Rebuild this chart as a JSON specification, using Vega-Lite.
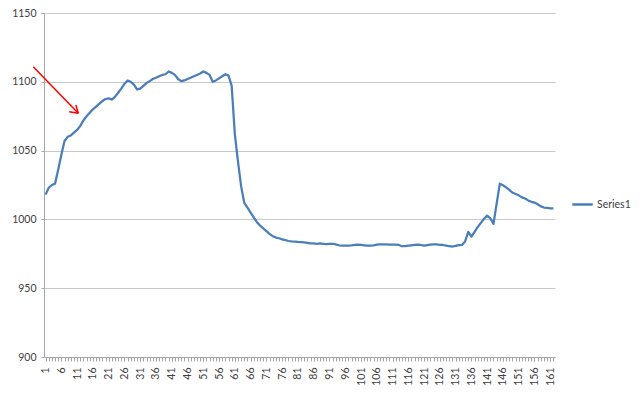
{
  "$schema": "https://vega.github.io/schema/vega-lite/v6.json",
  "autosize": {"type": "none"},
  "width": 511,
  "height": 344,
  "padding": {"left": 44, "top": 13, "right": 85, "bottom": 41},
  "background": "white",
  "config": {
    "view": {"stroke": null},
    "font": "Lato",
    "axis": {"labelFont": "Lato", "labelFontSize": 10.5, "labelColor": "#404040", "domainColor": "#a6a6a6", "tickColor": "#a6a6a6", "gridColor": "#c8c8c8", "title": null}
  },
  "datasets": {
    "series": [
      {"i":1,"v":1018},{"i":2,"v":1023},{"i":3,"v":1025},{"i":4,"v":1026},{"i":5,"v":1036},{"i":6,"v":1047},{"i":7,"v":1057},{"i":8,"v":1060},{"i":9,"v":1061},{"i":10,"v":1063},
      {"i":11,"v":1065},{"i":12,"v":1068},{"i":13,"v":1072},{"i":14,"v":1075},{"i":15,"v":1077.5},{"i":16,"v":1080},{"i":17,"v":1082},{"i":18,"v":1084},{"i":19,"v":1086},{"i":20,"v":1087.5},
      {"i":21,"v":1088},{"i":22,"v":1087},{"i":23,"v":1089},{"i":24,"v":1092},{"i":25,"v":1095},{"i":26,"v":1098.5},{"i":27,"v":1101},{"i":28,"v":1100},{"i":29,"v":1098},{"i":30,"v":1094.5},
      {"i":31,"v":1095},{"i":32,"v":1097},{"i":33,"v":1099},{"i":34,"v":1100.5},{"i":35,"v":1102},{"i":36,"v":1103},{"i":37,"v":1104},{"i":38,"v":1105},{"i":39,"v":1105.5},{"i":40,"v":1107.5},
      {"i":41,"v":1106.5},{"i":42,"v":1105},{"i":43,"v":1102},{"i":44,"v":1100.5},{"i":45,"v":1101},{"i":46,"v":1102},{"i":47,"v":1103},{"i":48,"v":1104},{"i":49,"v":1105},{"i":50,"v":1106},
      {"i":51,"v":1107.5},{"i":52,"v":1106.5},{"i":53,"v":1105},{"i":54,"v":1100},{"i":55,"v":1101},{"i":56,"v":1102.5},{"i":57,"v":1104},{"i":58,"v":1105.5},{"i":59,"v":1104.5},{"i":60,"v":1097},
      {"i":61,"v":1062},{"i":62,"v":1042},{"i":63,"v":1024},{"i":64,"v":1012},{"i":65,"v":1008.5},{"i":66,"v":1005},{"i":67,"v":1001.5},{"i":68,"v":998},{"i":69,"v":995.5},{"i":70,"v":993.5},
      {"i":71,"v":991.5},{"i":72,"v":989.5},{"i":73,"v":987.8},{"i":74,"v":986.8},{"i":75,"v":986.3},{"i":76,"v":985.5},{"i":77,"v":985},{"i":78,"v":984.3},{"i":79,"v":984},{"i":80,"v":983.8},
      {"i":81,"v":983.6},{"i":82,"v":983.5},{"i":83,"v":983.3},{"i":84,"v":983},{"i":85,"v":982.6},{"i":86,"v":982.5},{"i":87,"v":982.3},{"i":88,"v":982.5},{"i":89,"v":982.3},{"i":90,"v":982},
      {"i":91,"v":982.2},{"i":92,"v":982.3},{"i":93,"v":981.8},{"i":94,"v":981.2},{"i":95,"v":980.9},{"i":96,"v":980.9},{"i":97,"v":981},{"i":98,"v":981.2},{"i":99,"v":981.5},{"i":100,"v":981.6},
      {"i":101,"v":981.4},{"i":102,"v":981.2},{"i":103,"v":981},{"i":104,"v":980.9},{"i":105,"v":981.2},{"i":106,"v":981.6},{"i":107,"v":981.9},{"i":108,"v":981.9},{"i":109,"v":981.8},{"i":110,"v":981.7},
      {"i":111,"v":981.7},{"i":112,"v":981.6},{"i":113,"v":981.4},{"i":114,"v":980.5},{"i":115,"v":980.6},{"i":116,"v":981},{"i":117,"v":981.2},{"i":118,"v":981.4},{"i":119,"v":981.6},{"i":120,"v":981.4},
      {"i":121,"v":980.9},{"i":122,"v":981.3},{"i":123,"v":981.7},{"i":124,"v":981.9},{"i":125,"v":981.8},{"i":126,"v":981.5},{"i":127,"v":981.4},{"i":128,"v":981},{"i":129,"v":980.5},{"i":130,"v":980.3},
      {"i":131,"v":980.8},{"i":132,"v":981.3},{"i":133,"v":981.4},{"i":134,"v":984},{"i":135,"v":991},{"i":136,"v":987.5},{"i":137,"v":991},{"i":138,"v":994.5},{"i":139,"v":997.5},{"i":140,"v":1000.5},
      {"i":141,"v":1002.7},{"i":142,"v":1000.8},{"i":143,"v":996.7},{"i":144,"v":1011.5},{"i":145,"v":1026},{"i":146,"v":1024.8},{"i":147,"v":1023.3},{"i":148,"v":1021.5},{"i":149,"v":1019.5},{"i":150,"v":1018.5},
      {"i":151,"v":1017.5},{"i":152,"v":1016},{"i":153,"v":1015.2},{"i":154,"v":1013.8},{"i":155,"v":1012.8},{"i":156,"v":1012.2},{"i":157,"v":1011},{"i":158,"v":1009.5},{"i":159,"v":1008.6},{"i":160,"v":1008.3},
      {"i":161,"v":1008},{"i":162,"v":1008}
    ],
    "arrow": [
      {"x1": -2.9, "y1": 1111, "x2": 11.37, "y2": 1077.1},
      {"x1": 8.5, "y1": 1078.3, "x2": 11.37, "y2": 1077.1},
      {"x1": 10.6, "y1": 1083.1, "x2": 11.37, "y2": 1077.1}
    ]
  },
  "resolve": {"axis": {"x": "independent"}},
  "layer": [
    {
      "data": {"name": "series"},
      "mark": {"type": "line", "strokeWidth": 2.25, "strokeJoin": "round"},
      "encoding": {
        "x": {
          "field": "i", "type": "quantitative",
          "scale": {"domain": [0.5, 162.5], "nice": false, "zero": false},
          "axis": {
            "orient": "bottom",
            "values": [1,6,11,16,21,26,31,36,41,46,51,56,61,66,71,76,81,86,91,96,101,106,111,116,121,126,131,136,141,146,151,156,161],
            "format": "d",
            "labelOverlap": false,
            "labelAngle": -90,
            "labelAlign": "right",
            "labelBaseline": "middle",
            "labelPadding": 6,
            "tickSize": 4,
            "grid": false,
            "domainWidth": 1
          }
        },
        "y": {
          "field": "v", "type": "quantitative",
          "scale": {"domain": [900, 1150], "nice": false, "zero": false},
          "axis": {"values": [900, 950, 1000, 1050, 1100, 1150], "format": "d", "tickSize": 3, "labelPadding": 5, "grid": true}
        },
        "color": {
          "datum": "Series1",
          "scale": {"range": ["#4a7ebb"]},
          "legend": {
            "title": null, "orient": "none", "legendX": 527, "legendY": 180,
            "symbolType": "stroke", "symbolSize": 420, "symbolStrokeWidth": 2.5,
            "labelFont": "Lato", "labelFontSize": 10.5, "labelColor": "#404040", "labelOffset": 3
          }
        }
      }
    },
    {
      "data": {"name": "arrow"},
      "mark": {"type": "rule", "color": "#ff0000", "strokeWidth": 1.5},
      "encoding": {
        "x": {
          "field": "x1", "type": "quantitative",
          "axis": {
            "orient": "bottom",
            "values": [1,2,3,4,5,6,7,8,9,10,11,12,13,14,15,16,17,18,19,20,21,22,23,24,25,26,27,28,29,30,31,32,33,34,35,36,37,38,39,40,41,42,43,44,45,46,47,48,49,50,51,52,53,54,55,56,57,58,59,60,61,62,63,64,65,66,67,68,69,70,71,72,73,74,75,76,77,78,79,80,81,82,83,84,85,86,87,88,89,90,91,92,93,94,95,96,97,98,99,100,101,102,103,104,105,106,107,108,109,110,111,112,113,114,115,116,117,118,119,120,121,122,123,124,125,126,127,128,129,130,131,132,133,134,135,136,137,138,139,140,141,142,143,144,145,146,147,148,149,150,151,152,153,154,155,156,157,158,159,160,161,162],
            "labels": false,
            "domain": false,
            "tickSize": 4,
            "grid": false
          }
        },
        "y": {"field": "y1", "type": "quantitative"},
        "x2": {"field": "x2"},
        "y2": {"field": "y2"}
      }
    }
  ]
}
